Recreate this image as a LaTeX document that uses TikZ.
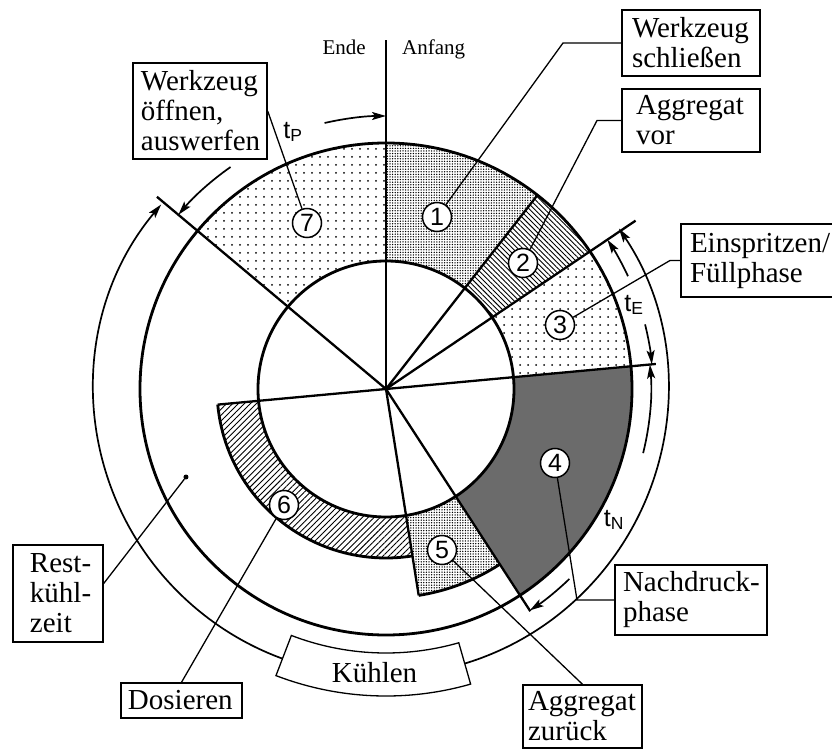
\documentclass[tikz,border=0pt]{standalone}
\usepackage{fontspec}
\setmainfont{Liberation Serif}
\newfontfamily\sansf{Liberation Sans}
\usetikzlibrary{patterns.meta,arrows.meta}
\begin{document}
\begin{tikzpicture}[x=1pt,y=1pt,
  ring/.style={line width=2.8pt},
  ray/.style={line width=2.3pt},
  dim/.style={line width=1.7pt},
  lead/.style={line width=1.3pt},
  tip/.style={-{Stealth[length=14pt,width=8pt,inset=3pt]}},
  bothtips/.style={{Stealth[length=14pt,width=8pt,inset=3pt]}-{Stealth[length=14pt,width=8pt,inset=3pt]}},
  box/.style={draw,line width=1.4pt,fill=white,align=left,inner xsep=6pt,inner ysep=0pt,font=\fontsize{29}{30}\selectfont,anchor=center},
  num/.style={circle,draw,line width=1.5pt,fill=white,minimum size=29pt,inner sep=0pt,font=\sansf\fontsize{25}{25}\selectfont},
  lbl/.style={font=\sansf\fontsize{25}{25}\selectfont,inner sep=1pt},
  fine/.style={pattern={Dots[distance=2.6pt,radius=0.75pt]},pattern color=black},
  coarse/.style={pattern={Dots[distance=8pt,radius=1pt]},pattern color=black},
  hatchA/.style={pattern={Lines[angle=-45,distance=3.6pt,line width=0.9pt]},pattern color=black},
  hatchB/.style={pattern={Lines[angle=45,distance=4.2pt,line width=0.9pt]},pattern color=black}
]
\useasboundingbox (-386,-360) rectangle (446,389);

% sector fills
\fill[fine] (52:128) arc[start angle=52,end angle=90,radius=128] -- (90:246) arc[start angle=90,end angle=52,radius=246] -- cycle;
\fill[hatchA] (34:128) arc[start angle=34,end angle=52,radius=128] -- (52:246) arc[start angle=52,end angle=34,radius=246] -- cycle;
\fill[coarse] (5.3:128) arc[start angle=5.3,end angle=34,radius=128] -- (34:246) arc[start angle=34,end angle=5.3,radius=246] -- cycle;
\fill[black!58] (-57:128) arc[start angle=-57,end angle=5.3,radius=128] -- (5.3:246) arc[start angle=5.3,end angle=-57,radius=246] -- cycle;
\fill[fine] (-81:128) arc[start angle=-81,end angle=-57,radius=128] -- (-57:209) arc[start angle=-57,end angle=-81,radius=209] -- cycle;
\fill[hatchB] (185.3:128) arc[start angle=185.3,end angle=279,radius=128] -- (279:169) arc[start angle=279,end angle=185.3,radius=169] -- cycle;
\fill[coarse] (90:128) arc[start angle=90,end angle=140,radius=128] -- (140:246) arc[start angle=140,end angle=90,radius=246] -- cycle;

% circles and rays
\draw[ring] (0,0) circle[radius=128];
\draw[ring] (0,0) circle[radius=246];
\draw[ray] (0,0) -- (90:349);
\draw[ray] (0,0) -- (140:299);
\draw[ray] (0,0) -- (52:246);
\draw[ray] (0,0) -- (34:301);
\draw[ray] (185.3:169) -- (5.3:271);
\draw[ray] (0,0) -- (-57:265);
\draw[ray] (0,0) -- (-81:209);
\draw[ring] (-81:209) arc[start angle=-81,end angle=-57,radius=209];
\draw[ring] (185.3:169) arc[start angle=185.3,end angle=279,radius=169];

% dimension arcs
\draw[dim,tip] (103:273) arc[start angle=103,end angle=90,radius=273];
\draw[dim,tip] (125:271) arc[start angle=125,end angle=140,radius=271];
\draw[dim,tip] (25:267) arc[start angle=25,end angle=34,radius=267];
\draw[dim,tip] (14:267) arc[start angle=14,end angle=5.3,radius=267];
\draw[dim,tip] (-14:265) arc[start angle=-14,end angle=5.3,radius=265];
\draw[dim,tip] (-46:264) arc[start angle=-46,end angle=-57,radius=264];
\draw[dim,bothtips] ([shift={(-5,0)}]140:287) arc[start angle=140,end angle=394,radius=287];

% Kuehlen box
\draw[lead,fill=white] (-111:264) arc[start angle=-111,end angle=-74,radius=264] -- (-74:307) arc[start angle=-74,end angle=-111,radius=307] -- cycle;
\node[anchor=base,inner sep=0pt,font=\fontsize{29}{30}\selectfont] (kuehlen) at (-11.5,-293) {Kühlen};

% time labels
\node[lbl] (tp) at (-93,257) {t\textsubscript{P}};
\node[lbl] (te) at (248,84) {t\textsubscript{E}};
\node[lbl] (tn) at (228,-131) {t\textsubscript{N}};

% Ende / Anfang
\node[anchor=base east,inner sep=0pt,font=\fontsize{21}{21}\selectfont] (ende) at (-20,334) {Ende};
\node[anchor=base west,inner sep=0pt,font=\fontsize{21}{21}\selectfont] (anfang) at (16,334) {Anfang};

% number circles
\node[num] (n1) at (51,172) {1};
\node[num] (n2) at (137,126) {2};
\node[num] (n3) at (174,64) {3};
\node[num] (n4) at (169,-74) {4};
\node[num] (n5) at (56,-161) {5};
\node[num] (n6) at (-102,-116) {6};
\node[num] (n7) at (-79,166) {7};
\node[circle,fill,inner sep=0pt,minimum size=5pt] (dot) at (-200,-88) {};

% boxes
\node[box,inner xsep=0pt,text width=138pt,minimum height=66pt] (ws) at (305,346) {\hspace*{10pt}Werkzeug\\\hspace*{10pt}schließen};
\node[box,inner xsep=0pt,text width=138pt,minimum height=63pt] (av) at (305,268.5) {\hspace*{14pt}Aggregat\\\hspace*{14pt}vor};
\node[box,inner xsep=0pt,text width=159pt,minimum height=73pt] (es) at (374.5,128.5) {\hspace*{9pt}Einspritzen/\\\hspace*{9pt}Füllphase};
\node[box,inner xsep=0pt,text width=152pt,minimum height=70pt] (np) at (305,-211) {\hspace*{8pt}Nachdruck-\\\hspace*{8pt}phase};
\node[box,inner xsep=0pt,text width=119pt,minimum height=63pt] (az) at (196.5,-327.5) {\hspace*{5pt}Aggregat\\\hspace*{5pt}zurück};
\node[box,inner xsep=0pt,text width=121pt,minimum height=35pt] (do) at (-204.5,-311.5) {\hspace*{7pt}Dosieren};
\node[box,inner xsep=0pt,text width=90pt,minimum height=97pt] (rk) at (-328,-204.5) {\hspace*{17pt}Rest-\\\hspace*{17pt}kühl-\\\hspace*{17pt}zeit};
\node[box,inner xsep=0pt,text width=134pt,minimum height=96pt] (wo) at (-186,278) {\hspace*{8pt}Werkzeug\\\hspace*{8pt}öffnen,\\\hspace*{8pt}auswerfen};

% leaders
\draw[lead] (ws.west) -- (177,346) -- (n1);
\draw[lead] (av.west) -- (211,268.5) -- (n2);
\draw[lead] (es.west) -- (284,128.5) -- (n3);
\draw[lead] (n4) -- (191,-211) -- (np.west);
\draw[lead] (n5) -- (az.north);
\draw[lead] (n6) -- (do.north);
\draw[lead] (n7) -- (wo.east);
\draw[lead] ([yshift=10pt]rk.east) -- (dot);
\end{tikzpicture}
\end{document}
